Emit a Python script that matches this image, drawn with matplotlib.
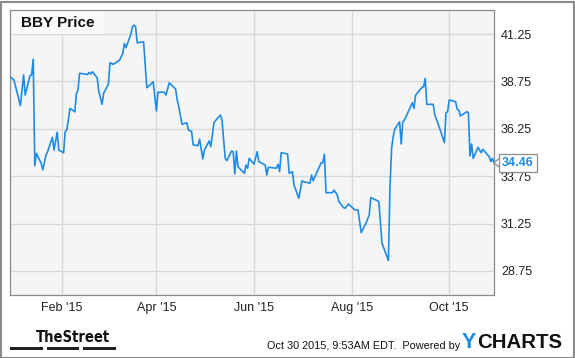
import matplotlib
matplotlib.use("Agg")
import matplotlib.pyplot as plt
import matplotlib.dates as mdates
import matplotlib.transforms as mtrans
import pandas as pd
from matplotlib.patches import Rectangle, Polygon

# ---- data (Dec 2014 - Oct 2015) ----
DATES = [
    "2014-12-31", "2015-01-02", "2015-01-06", "2015-01-08", "2015-01-09", "2015-01-12",
    "2015-01-13", "2015-01-14", "2015-01-15", "2015-01-16", "2015-01-19", "2015-01-20",
    "2015-01-22", "2015-01-23", "2015-01-26", "2015-01-27", "2015-01-29", "2015-01-30",
    "2015-02-02", "2015-02-03", "2015-02-04", "2015-02-06", "2015-02-09", "2015-02-10",
    "2015-02-11", "2015-02-12", "2015-02-17", "2015-02-18", "2015-02-19", "2015-02-20",
    "2015-02-23", "2015-02-24", "2015-02-26", "2015-02-27", "2015-03-02", "2015-03-03",
    "2015-03-05", "2015-03-09", "2015-03-11", "2015-03-12", "2015-03-13", "2015-03-16",
    "2015-03-17", "2015-03-18", "2015-03-19", "2015-03-20", "2015-03-24", "2015-03-26",
    "2015-03-30", "2015-04-01", "2015-04-02", "2015-04-06", "2015-04-07", "2015-04-09",
    "2015-04-13", "2015-04-14", "2015-04-15", "2015-04-17", "2015-04-20", "2015-04-21",
    "2015-04-23", "2015-04-24", "2015-04-27", "2015-04-28", "2015-04-30", "2015-05-01",
    "2015-05-04", "2015-05-05", "2015-05-07", "2015-05-11", "2015-05-12", "2015-05-14",
    "2015-05-15", "2015-05-18", "2015-05-19", "2015-05-20", "2015-05-21", "2015-05-22",
    "2015-05-26", "2015-05-27", "2015-05-28", "2015-05-29", "2015-06-01", "2015-06-03",
    "2015-06-04", "2015-06-08", "2015-06-09", "2015-06-10", "2015-06-15", "2015-06-16",
    "2015-06-17", "2015-06-18", "2015-06-22", "2015-06-23", "2015-06-25", "2015-06-26",
    "2015-06-29", "2015-07-01", "2015-07-02", "2015-07-06", "2015-07-07", "2015-07-08",
    "2015-07-10", "2015-07-13", "2015-07-14", "2015-07-15", "2015-07-16", "2015-07-20",
    "2015-07-21", "2015-07-23", "2015-07-24", "2015-07-27", "2015-07-28", "2015-07-30",
    "2015-08-03", "2015-08-05", "2015-08-07", "2015-08-10", "2015-08-12", "2015-08-13",
    "2015-08-17", "2015-08-18", "2015-08-20", "2015-08-24", "2015-08-25", "2015-08-26",
    "2015-08-27", "2015-08-28", "2015-08-31", "2015-09-01", "2015-09-02", "2015-09-03",
    "2015-09-08", "2015-09-09", "2015-09-10", "2015-09-14", "2015-09-15", "2015-09-16",
    "2015-09-17", "2015-09-21", "2015-09-22", "2015-09-24", "2015-09-28", "2015-09-29",
    "2015-09-30", "2015-10-01", "2015-10-05", "2015-10-06", "2015-10-07", "2015-10-08",
    "2015-10-12", "2015-10-13", "2015-10-14", "2015-10-15", "2015-10-16", "2015-10-19",
    "2015-10-21", "2015-10-22", "2015-10-26", "2015-10-27", "2015-10-28", "2015-10-29",
]
PRICES = [
    38.97, 38.82, 37.47, 39.09, 38.03, 39.05,
    39.09, 39.92, 34.30, 34.96, 34.43, 34.08,
    34.87, 35.04, 35.80, 35.13, 36.07, 35.13,
    34.99, 36.10, 36.19, 37.33, 37.15, 38.12,
    38.30, 39.18, 39.12, 39.23, 39.14, 39.26,
    38.94, 38.24, 37.54, 38.12, 38.60, 39.74,
    39.65, 39.88, 40.23, 40.76, 40.53, 41.23,
    41.63, 41.72, 41.63, 40.79, 40.84, 38.42,
    38.73, 37.19, 38.18, 38.18, 38.03, 38.68,
    38.35, 37.77, 37.42, 36.49, 36.57, 36.19,
    36.10, 35.40, 35.36, 35.71, 34.66, 35.13,
    35.61, 35.31, 36.59, 36.98, 36.71, 34.69,
    34.57, 35.08, 35.04, 33.87, 35.08, 34.25,
    33.90, 34.34, 34.17, 34.69, 34.39, 35.04,
    34.52, 34.34, 33.81, 34.22, 34.17, 34.38,
    33.99, 34.99, 34.92, 33.90, 33.99, 33.29,
    32.58, 33.51, 33.46, 33.38, 33.81, 33.51,
    33.90, 34.46, 34.46, 34.91, 32.88, 32.88,
    33.02, 32.76, 32.41, 32.09, 32.06, 32.28,
    31.97, 31.97, 30.77, 31.27, 31.70, 32.62,
    32.46, 32.41, 30.21, 29.30, 33.20, 35.22,
    35.83, 36.24, 36.62, 35.45, 36.62, 36.71,
    37.63, 37.33, 38.03, 38.44, 38.47, 38.91,
    37.54, 37.54, 36.98, 36.54, 35.52, 37.10,
    37.15, 37.77, 37.68, 37.28, 37.24, 36.93,
    37.15, 37.10, 34.82, 35.45, 34.69, 35.27,
    34.99, 35.17, 34.78, 34.52, 34.69, 34.46,
]
YTICKS = [28.75, 31.25, 33.75, 36.25, 38.75, 41.25]
TITLE = "BBY Price"
FOOTER = "Oct 30 2015, 9:53AM EDT.  Powered by"

BLUE = "#1e8ce6"
W, H = 575, 358
plt.rcParams["font.family"] = ["Liberation Sans", "DejaVu Sans"]


def fx(px):
    return px / W


def fy(py):
    return 1 - py / H


dates = pd.to_datetime(DATES)
fig = plt.figure(figsize=(W / 100, H / 100), dpi=100)
fig.patch.set_facecolor("white")

ax = fig.add_axes([fx(10), fy(295), 484 / W, 285 / H])
ax.set_facecolor("#f5f5f5")
ax.plot(dates, PRICES, color=BLUE, lw=1.2, zorder=3)
ax.set_xlim(pd.Timestamp("2014-12-30 12:00"), dates[-1])
ax.set_ylim(27.48, 42.52)

ax.yaxis.tick_right()
ax.set_yticks(YTICKS)
ax.set_yticklabels([f"{v:.2f}" for v in YTICKS])
ax.xaxis.set_major_locator(mdates.MonthLocator(bymonth=[2, 4, 6, 8, 10]))
ax.xaxis.set_major_formatter(mdates.DateFormatter("%b '%y"))
ax.tick_params(axis="both", length=0, labelsize=9, colors="#222222", pad=5)
ax.grid(color="#d8d8d8", lw=1.0, zorder=1)
ax.set_axisbelow(True)
for s in ax.spines.values():
    s.set_color("#8c8c8c")
    s.set_linewidth(0.9)

# title box in the upper-left corner of the plot
ax.add_patch(Rectangle((fx(10), fy(34)), 94 / W, 24 / H, transform=fig.transFigure,
                       facecolor="#fafafa", edgecolor="none", zorder=2.5))
ax.text(fx(21), fy(23), TITLE, transform=fig.transFigure, fontsize=11,
        fontweight="bold", color="#111111", va="center", ha="left", zorder=4)

# last-value tag with a small pointer
fig.canvas.draw()
tip_x, tip_y = ax.transData.transform((mdates.date2num(dates[-1]), PRICES[-1]))
fig.patches.append(Polygon([[tip_x, tip_y], [tip_x + 6, tip_y + 5], [tip_x + 6, tip_y - 5]],
                           closed=True, facecolor="white", edgecolor="#8c8c8c", lw=0.9,
                           transform=mtrans.IdentityTransform()))
fig.text(fx(518), tip_y / H, f"{PRICES[-1]:.2f}", fontsize=9, fontweight="bold", color=BLUE,
         ha="center", va="center", zorder=6,
         bbox=dict(boxstyle="square,pad=0.25", facecolor="white", edgecolor="#8c8c8c", lw=0.9))

# footer: TheStreet logo, timestamp and YCHARTS logo
fig.text(fx(36), fy(342), "TheStreet", family="DejaVu Sans", fontstretch="condensed",
         fontsize=10.5, fontweight="bold", color="#111111", ha="left", va="baseline")
for x0, x1 in [(10, 43), (47, 79), (83, 116)]:
    fig.patches.append(Rectangle((fx(x0), fy(350)), (x1 - x0) / W, 3.5 / H,
                                 transform=fig.transFigure, facecolor="#222222",
                                 edgecolor="none"))
fig.text(fx(460), fy(349), FOOTER, fontsize=7.8, color="#111111", ha="right", va="baseline")
fig.text(fx(462), fy(348), "Y", fontsize=15.5, fontweight="bold", color=BLUE,
         ha="left", va="baseline")
fig.text(fx(477), fy(348), "CHARTS", fontsize=14.7, fontweight="bold", color="#111111",
         ha="left", va="baseline")

# outer frame
fig.patches.append(Rectangle((0.5 / W, 0.5 / H), (W - 2) / W, (H - 2) / H,
                             transform=fig.transFigure, facecolor="none",
                             edgecolor="#8a8a8a", lw=1.5))

fig.savefig("out.png", dpi=100)
